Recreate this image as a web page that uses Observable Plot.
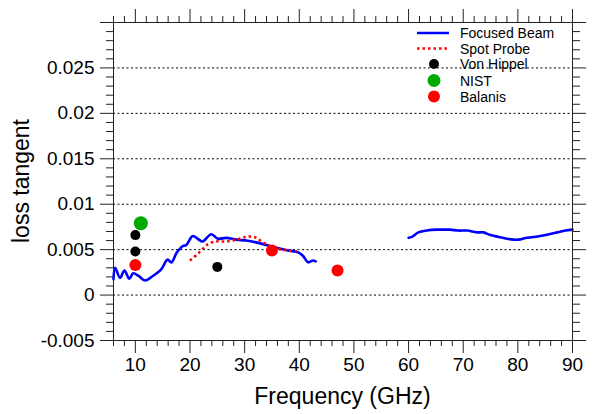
<!DOCTYPE html>
<html><head><meta charset="utf-8">
<script src="https://cdn.jsdelivr.net/npm/d3@7"></script>
<script src="https://cdn.jsdelivr.net/npm/@observablehq/plot@0.6"></script>
<style>
body{margin:0;background:#fff}
#chart{position:relative;width:595px;height:414px}
svg{font-family:"Liberation Sans",Arial,Helvetica,sans-serif}
</style>
</head><body><div id="chart"></div>
<script>
// Focused Beam, lower band segment
const beamLowFreq = [6.0,6.3,7.2,8.0,8.9,9.6,10.6,11.8,13.2,14.7,15.9,16.6,17.6,18.7,19.3,20.5,21.4,22.3,23.9,25.1,26.6,28.5,30.3,32.1,34.0,35.8,37.9,39.8,40.7,41.6,42.5,43.0];
const beamLowLoss = [0.00176,0.0030,0.0019,0.0027,0.0018,0.0024,0.0021,0.0016,0.0021,0.0028,0.0039,0.0036,0.0047,0.0054,0.0055,0.0065,0.0062,0.0059,0.0067,0.0062,0.0063,0.0061,0.0060,0.0058,0.0055,0.0052,0.0049,0.0047,0.0043,0.0036,0.0038,0.0037];
// Focused Beam, upper band segment
const beamHighFreq = [60.0,60.6,61.8,63.3,65.2,66.4,67.6,69.1,70.7,72.5,73.7,75.0,76.5,78.0,79.2,80.1,81.7,84.1,85.7,87.2,88.7,90.0];
const beamHighLoss = [0.0063,0.0064,0.0069,0.0071,0.0072,0.0072,0.0072,0.0071,0.0071,0.0069,0.0069,0.0066,0.0064,0.0062,0.0061,0.0061,0.0063,0.0065,0.0067,0.0069,0.0071,0.0072];
// Spot Probe
const spotFreq = [20.0,21.7,23.3,24.8,26.6,28.5,30.3,31.8,33.1,35.2,37.0,39.5];
const spotLoss = [0.0038,0.0047,0.0056,0.0059,0.0059,0.0061,0.0064,0.0064,0.0059,0.0052,0.0050,0.0048];
// Point references
const vonHippelFreq = [10, 10, 25];
const vonHippelLoss = [0.0066, 0.0048, 0.0031];
const nistFreq = [11];
const nistLoss = [0.0079];
const balanisFreq = [10, 35, 47];
const balanisLoss = [0.0033, 0.0049, 0.0027];
// Axes
const xMajorTicks = [10,20,30,40,50,60,70,80,90];
const xMinorTicks = [6,8,12,14,16,18,22,24,26,28,32,34,36,38,42,44,46,48,52,54,56,58,62,64,66,68,72,74,76,78,82,84,86,88];
const yMajorTicks = [-0.005,0,0.005,0.01,0.015,0.02,0.025,0.03];
const yMajorLabels = ["-0.005","0","0.005","0.01","0.015","0.02","0.025",""];
const yMinorTicks = d3.range(-4,30).filter(i => i % 5 !== 0).map(i => i / 1000);
const gridValues = [0,0.005,0.01,0.015,0.02,0.025];
const legendNames = ["Focused Beam","Spot Probe","Von Hippel","NIST","Balanis"];

const beam = [
  ...beamLowFreq.map((f,i) => ({f, v: beamLowLoss[i], seg: "low"})),
  ...beamHighFreq.map((f,i) => ({f, v: beamHighLoss[i], seg: "high"}))
];
const spot = spotFreq.map((f,i) => ({f, v: spotLoss[i]}));
const vh = vonHippelFreq.map((f,i) => ({f, v: vonHippelLoss[i]}));
const nist = nistFreq.map((f,i) => ({f, v: nistLoss[i]}));
const bal = balanisFreq.map((f,i) => ({f, v: balanisLoss[i]}));

const fmtY = d => yMajorLabels[yMajorTicks.indexOf(d)] ?? "";
const fs = 19;
const axisCommon = {label: null, stroke: "#222", fontSize: fs};

const plot = Plot.plot({
  width: 595, height: 414,
  marginLeft: 113, marginRight: 23, marginTop: 22, marginBottom: 74,
  style: {fontFamily: '"Liberation Sans",Arial,Helvetica,sans-serif', fontSize: fs + "px", color: "#000", background: "#fff"},
  x: {domain: [6, 90]},
  y: {domain: [-0.005, 0.03]},
  marks: [
    Plot.ruleY(gridValues, {stroke: "#000", strokeWidth: 1, strokeDasharray: "2,2.5"}),
    Plot.line(beam, {x: "f", y: "v", z: "seg", stroke: "#0000ff", strokeWidth: 2.6, curve: "catmull-rom"}),
    Plot.line(spot, {x: "f", y: "v", stroke: "#ff0000", strokeWidth: 2.6, strokeDasharray: "2.5,3", strokeLinecap: "butt", curve: "catmull-rom"}),
    Plot.dot(vh, {x: "f", y: "v", r: 5, fill: "#000", stroke: null}),
    Plot.dot(nist, {x: "f", y: "v", r: 7, fill: "#00aa00", stroke: null}),
    Plot.dot(bal, {x: "f", y: "v", r: 6, fill: "#ff0000", stroke: null}),
    Plot.frame({stroke: "#222"}),
    Plot.axisX({...axisCommon, anchor: "bottom", ticks: xMajorTicks, tickSize: 13, tickPadding: 4, tickFormat: d => String(d)}),
    Plot.axisX({...axisCommon, anchor: "bottom", ticks: xMinorTicks, tickSize: 6, tickFormat: () => ""}),
    Plot.axisX({...axisCommon, anchor: "top", ticks: xMajorTicks, tickSize: 14, tickFormat: () => ""}),
    Plot.axisX({...axisCommon, anchor: "top", ticks: xMinorTicks, tickSize: 7, tickFormat: () => ""}),
    Plot.axisY({...axisCommon, anchor: "left", ticks: yMajorTicks, tickSize: 13, tickPadding: 6, tickFormat: fmtY}),
    Plot.axisY({...axisCommon, anchor: "left", ticks: yMinorTicks, tickSize: 7, tickFormat: () => ""}),
    Plot.axisY({...axisCommon, anchor: "right", ticks: yMajorTicks, tickSize: 13, tickFormat: () => ""}),
    Plot.axisY({...axisCommon, anchor: "right", ticks: yMinorTicks, tickSize: 7, tickFormat: () => ""})
  ]
});
document.getElementById("chart").appendChild(plot);

const svg = d3.select(plot);
// axis titles
svg.append("text").attr("x", 342.5).attr("y", 404).attr("text-anchor", "middle")
  .attr("font-size", 23).attr("fill", "#000").text("Frequency (GHz)");
svg.append("text").attr("transform", "translate(29,181) rotate(-90)").attr("text-anchor", "middle")
  .attr("font-size", 23).attr("fill", "#000").text("loss tangent");

// legend
const lg = svg.append("g").attr("font-size", 14).attr("fill", "#000").attr("text-anchor", "start");
const rows = [33, 48.5, 64, 80.5, 96.5];
lg.append("line").attr("x1", 417).attr("x2", 449).attr("y1", rows[0]).attr("y2", rows[0])
  .attr("stroke", "#0000ff").attr("stroke-width", 2.5);
lg.append("line").attr("x1", 417).attr("x2", 449).attr("y1", rows[1]).attr("y2", rows[1])
  .attr("stroke", "#ff0000").attr("stroke-width", 2.5).attr("stroke-dasharray", "2.5,3");
lg.append("circle").attr("cx", 434).attr("cy", rows[2]).attr("r", 5).attr("fill", "#000");
lg.append("circle").attr("cx", 434).attr("cy", rows[3]).attr("r", 6.5).attr("fill", "#00aa00");
lg.append("circle").attr("cx", 434).attr("cy", rows[4]).attr("r", 6).attr("fill", "#ff0000");
legendNames.forEach((n, i) => {
  lg.append("text").attr("x", 460).attr("y", rows[i]).attr("dy", "0.36em").attr("text-anchor", "start").text(n);
});
</script>
</body></html>
